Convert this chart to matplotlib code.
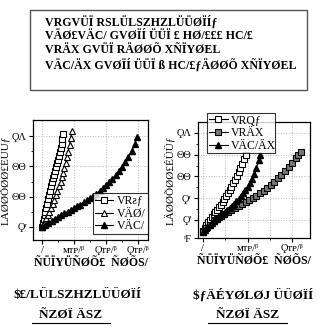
import matplotlib
matplotlib.use("Agg")
import matplotlib.pyplot as plt
from matplotlib.patches import Rectangle
from matplotlib.lines import Line2D

plt.rcParams['font.family'] = ['Liberation Serif', 'DejaVu Serif', 'DejaVu Sans']

# ---------------- data ----------------
box_lines = ["VRGVÜÏ RSLÜLSZHZLÜÜØÏÍƒ",
             "VÄØ£VÄC/ GVØÏÍ ÜÜÏ £ HØ/£££ HC/£",
             "VRÄX GVÜÏ RÄØØÕ XÑÏYØEL",
             "VÄC/ÄX GVØÏÍ ÜÜÏ ß HC/£ƒÄØØÕ XÑÏYØEL"]

# left panel
left_names = ["VRƨƒ", "VÄØ/", "VÄC/"]
x_sq = [0.00, 0.02, 0.05, 0.08, 0.10, 0.13, 0.16, 0.19, 0.22, 0.25, 0.28, 0.31,
        0.34, 0.37, 0.40, 0.43, 0.46, 0.49, 0.52, 0.55, 0.58, 0.61, 0.64, 0.67]
y_sq = [0.00, 0.12, 0.25, 0.38, 0.50, 0.63, 0.77, 0.92, 1.06, 1.20, 1.34, 1.47,
        1.60, 1.73, 1.86, 1.98, 2.10, 2.22, 2.35, 2.48, 2.61, 2.74, 2.90, 3.08]
x_ot = [0.00, 0.04, 0.08, 0.13, 0.18, 0.23, 0.28, 0.33, 0.38, 0.43, 0.48, 0.53,
        0.58, 0.62, 0.66, 0.70, 0.74, 0.78, 0.82, 0.86, 0.90, 0.93]
y_ot = [0.00, 0.09, 0.18, 0.29, 0.40, 0.51, 0.63, 0.76, 0.90, 1.04, 1.19, 1.34,
        1.50, 1.64, 1.79, 1.95, 2.12, 2.30, 2.49, 2.70, 2.95, 3.18]
x_ft = [0.00, 0.10, 0.20, 0.30, 0.40, 0.50, 0.60, 0.70, 0.80, 0.90, 1.00, 1.10,
        1.20, 1.30, 1.40, 1.50, 1.60, 1.70, 1.80, 1.90, 2.00, 2.10, 2.20, 2.30,
        2.40, 2.50, 2.60, 2.70, 2.80, 2.90, 2.97]
y_ft = [0.00, 0.08, 0.14, 0.20, 0.27, 0.33, 0.39, 0.45, 0.51, 0.56, 0.62, 0.68,
        0.74, 0.81, 0.88, 0.95, 1.02, 1.10, 1.19, 1.28, 1.38, 1.48, 1.59, 1.71,
        1.84, 1.98, 2.14, 2.31, 2.50, 2.74, 2.98]
left_xticks = [0, 1, 2, 3]
left_xticklabels = ["/", "ᴍᴛᴘ/ᵝ", "Ϙᴛᴘ/ᵝ", "Ϙᴛᴘ/ᵝ"]
left_yticks = [0, 1, 2, 3]
left_yticklabels = ["Ϙʳ", "ΘΘ", "ΘΘ", "ϘΛ"]

# right panel
right_names = ["VRQƒ", "VRÄX", "VÄC/ÄX"]
x_rs = [0.00, 0.04, 0.08, 0.12, 0.16, 0.20, 0.24, 0.28, 0.32, 0.36, 0.40, 0.44,
        0.48, 0.52, 0.56, 0.60, 0.64, 0.68, 0.72, 0.76, 0.80, 0.84, 0.88, 0.92, 0.96]
y_rs = [0.48, 0.62, 0.76, 0.89, 1.01, 1.13, 1.25, 1.36, 1.47, 1.59, 1.70, 1.82,
        1.95, 2.08, 2.22, 2.37, 2.52, 2.68, 2.85, 3.03, 3.21, 3.40, 3.59, 3.79, 4.00]
x_rh = [0.00, 0.08, 0.16, 0.24, 0.32, 0.40, 0.48, 0.56, 0.64, 0.72, 0.80, 0.88,
        0.96, 1.04, 1.12, 1.20, 1.28, 1.36, 1.44, 1.52, 1.60, 1.68, 1.76, 1.84,
        1.92, 2.00, 2.08, 2.14, 2.20]
y_rh = [0.45, 0.62, 0.79, 0.94, 1.06, 1.16, 1.26, 1.35, 1.44, 1.54, 1.64, 1.73,
        1.83, 1.92, 2.02, 2.12, 2.22, 2.34, 2.47, 2.61, 2.76, 2.92, 3.08, 3.25,
        3.43, 3.62, 3.83, 3.97, 4.10]
x_rt = [0.00, 0.05, 0.10, 0.15, 0.20, 0.25, 0.30, 0.35, 0.40, 0.45, 0.50, 0.55,
        0.60, 0.65, 0.70, 0.75, 0.80, 0.85, 0.90, 0.95, 1.00, 1.05, 1.10, 1.15,
        1.20, 1.25, 1.28]
y_rt = [0.45, 0.56, 0.66, 0.76, 0.86, 0.96, 1.05, 1.13, 1.21, 1.29, 1.37, 1.45,
        1.54, 1.64, 1.75, 1.86, 1.98, 2.10, 2.23, 2.37, 2.53, 2.70, 2.90, 3.12,
        3.40, 3.74, 3.98]
right_xticks = [0, 1, 2]
right_xticklabels = ["/", "ᴍᴛᴘ/ᵝ", "Ϙᴛᴘ/ᵝ"]
right_yticks = [0.17, 1, 2, 3, 4, 5]
right_yticklabels = ["ʳF", "Ϙ'", "Ϙʳ", "ΘΘ", "ΘΘ", "ϘΛ"]

ylabel_txt = "LÄØØÕØØ£ÉÜÜƒ"
xlabel_txt = "ÑÜÏYÜÑØÕ£  ÑØÕS/"
cap_left = ["$£/LÜLSZHZLÜÜØÏÍ", "ÑZØÏ ÄSZ"]
cap_right = ["$ƒÄÉYØLØJ ÜÜØÏÍ", "ÑZØÏ ÄSZ"]

# ---------------- figure ----------------
W, H = 320, 329
fig = plt.figure(figsize=(W / 100, H / 100), dpi=100)

def fx(px):
    return px / W

def fy(py):
    return 1 - py / H

# top box
fig.patches.append(Rectangle((fx(30), fy(90)), fx(307) - fx(30), fy(10) - fy(90),
                             transform=fig.transFigure, fill=False,
                             edgecolor='#555555', linewidth=1.0))
for t, py in zip(box_lines, [22, 36, 50, 65]):
    fig.text(fx(45), fy(py), t, fontsize=8.6, fontweight='bold', va='center',
             ha='left', color='black')

def style_axes(ax):
    ax.grid(True, which='major', color='#bbbbbb', linestyle=':', linewidth=0.7)
    ax.tick_params(axis='both', which='major', direction='out', length=3,
                   width=0.8, labelsize=7.5, pad=1.5)
    ax.tick_params(axis='both', which='minor', direction='out', length=1.5, width=0.6)
    for s in ax.spines.values():
        s.set_linewidth(0.9)

MS_S = 4.2
MS_T = 4.6

# left axes: x 33..148, y 120..240
axL = fig.add_axes([fx(33), fy(240), fx(148) - fx(33), fy(120) - fy(240)])
axL.plot(x_sq, y_sq, '-s', color='black', mfc='white', mec='black', ms=MS_S, lw=0.8,
         mew=0.8, label=left_names[0])
axL.plot(x_ot, y_ot, '-^', color='black', mfc='white', mec='black', ms=MS_T, lw=0.8,
         mew=0.8, label=left_names[1])
axL.plot(x_ft, y_ft, '-^', color='black', mfc='black', mec='black', ms=MS_T, lw=0.8,
         label=left_names[2])
axL.set_xlim(-0.28, 3.31)
axL.set_ylim(-0.43, 3.53)
axL.set_xticks(left_xticks)
axL.set_xticklabels(left_xticklabels)
axL.set_yticks(left_yticks)
axL.set_yticklabels(left_yticklabels)
axL.set_xticks([0.5, 1.5, 2.5], minor=True)
axL.set_yticks([0.5, 1.5, 2.5], minor=True)
style_axes(axL)
axL.legend(loc='lower left', bbox_to_anchor=(0.52, 0.05, 0.48, 0.30), mode='expand',
           fontsize=8.5, frameon=True, fancybox=False, edgecolor='black',
           handlelength=1.6, handletextpad=0.3, borderpad=0.15, labelspacing=0.05,
           borderaxespad=0.0)
axL.get_legend().get_frame().set_linewidth(0.8)
axL.set_ylabel(ylabel_txt, fontsize=8, labelpad=1)
axL.set_xlabel(xlabel_txt, fontsize=8.5, fontweight='bold', labelpad=1)

# right axes: x 198..310, y 122..238
axR = fig.add_axes([fx(198), fy(238), fx(310) - fx(198), fy(122) - fy(238)])
axR.plot(x_rs, y_rs, '-s', color='black', mfc='white', mec='black', ms=MS_S, lw=0.8,
         mew=0.8, label=right_names[0])
axR.plot(x_rh, y_rh, '-s', color='black', mfc='#777777', mec='black', ms=MS_S, lw=0.8,
         mew=0.8, label=right_names[1])
axR.plot(x_rt, y_rt, '-^', color='black', mfc='black', mec='black', ms=MS_T, lw=0.8,
         label=right_names[2])
axR.set_xlim(-0.11, 2.40)
axR.set_ylim(0.17, 5.5)
axR.set_xticks(right_xticks)
axR.set_xticklabels(right_xticklabels)
axR.set_yticks(right_yticks)
axR.set_yticklabels(right_yticklabels)
axR.set_xticks([0.5, 1.5], minor=True)
axR.set_yticks([1.5, 2.5, 3.5, 4.5], minor=True)
style_axes(axR)
axR.xaxis.grid(True, which='minor', color='#bbbbbb', linestyle=':', linewidth=0.7)
axR.legend(loc='upper left', bbox_to_anchor=(0.08, 0.76, 0.61, 0.32), mode='expand',
           fontsize=8.5, frameon=True, fancybox=False, edgecolor='black',
           handlelength=1.6, handletextpad=0.3, borderpad=0.15, labelspacing=0.05,
           borderaxespad=0.0)
axR.get_legend().get_frame().set_linewidth(0.8)
axR.set_ylabel(ylabel_txt, fontsize=8, labelpad=1)
axR.set_xlabel(xlabel_txt, fontsize=8.5, fontweight='bold', labelpad=1)

# captions
fig.text(fx(78), fy(295), cap_left[0], fontsize=9.5, fontweight='bold',
         ha='center', va='center')
fig.text(fx(71), fy(315), cap_left[1], fontsize=9.5, fontweight='bold',
         ha='center', va='center')
fig.text(fx(253), fy(295), cap_right[0], fontsize=9.5, fontweight='bold',
         ha='center', va='center')
fig.text(fx(248), fy(315), cap_right[1], fontsize=9.5, fontweight='bold',
         ha='center', va='center')
for x0, x1 in [(32, 110), (208, 287)]:
    fig.add_artist(Line2D([fx(x0), fx(x1)], [fy(323), fy(323)], color='black',
                          lw=0.8, transform=fig.transFigure))

fig.savefig("out.png", dpi=100)
